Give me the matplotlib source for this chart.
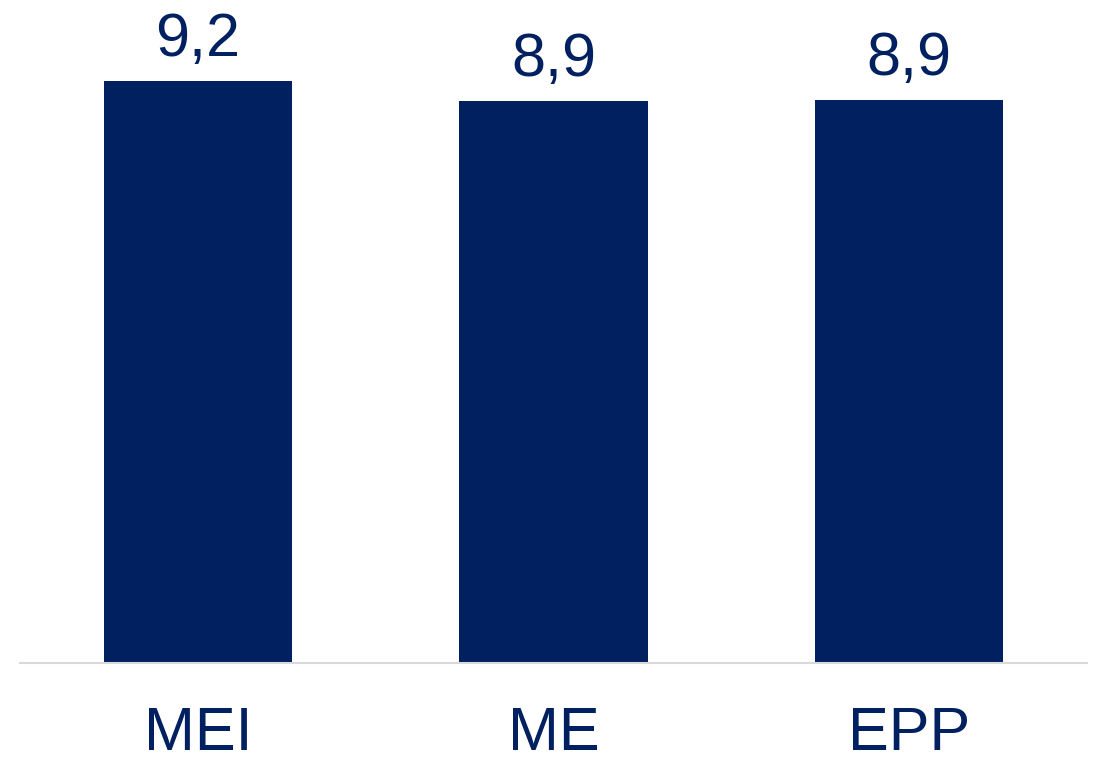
import matplotlib.pyplot as plt

# notas médias por porte de empresa
categorias = ['MEI', 'ME', 'EPP']
notas = [9.18, 8.86, 8.88]

cor_barra = '#002060'

plt.rcParams['font.family'] = ['Liberation Sans Narrow', 'Liberation Sans', 'DejaVu Sans']

fig = plt.figure(figsize=(11.02, 7.65), dpi=100)
ax = fig.add_axes([20 / 1102, 1 - 663 / 765, 1067 / 1102, 634 / 765])

x = range(len(categorias))
barras = ax.bar(x, notas, width=0.53, color=cor_barra)

ax.set_xlim(-0.5, len(categorias) - 0.5)
ax.set_ylim(0, 10)

# rótulos de valor com vírgula decimal
for b, v in zip(barras, notas):
    ax.annotate(f'{v:.1f}'.replace('.', ','),
                xy=(b.get_x() + b.get_width() / 2, b.get_height()),
                xytext=(0, 18), textcoords='offset points',
                ha='center', va='baseline', fontsize=44, color=cor_barra,
                annotation_clip=False)

# nomes das categorias abaixo da linha base
for i, nome in enumerate(categorias):
    ax.annotate(nome, xy=(i, 0), xycoords=('data', 'axes fraction'),
                xytext=(0, -63), textcoords='offset points',
                ha='center', va='baseline', fontsize=44, color=cor_barra,
                annotation_clip=False)

for lado in ['top', 'right', 'left']:
    ax.spines[lado].set_visible(False)
ax.spines['bottom'].set_color('#D9D9D9')
ax.spines['bottom'].set_linewidth(1.5)
ax.set_xticks([])
ax.set_yticks([])

fig.savefig('out.png', dpi=100)
